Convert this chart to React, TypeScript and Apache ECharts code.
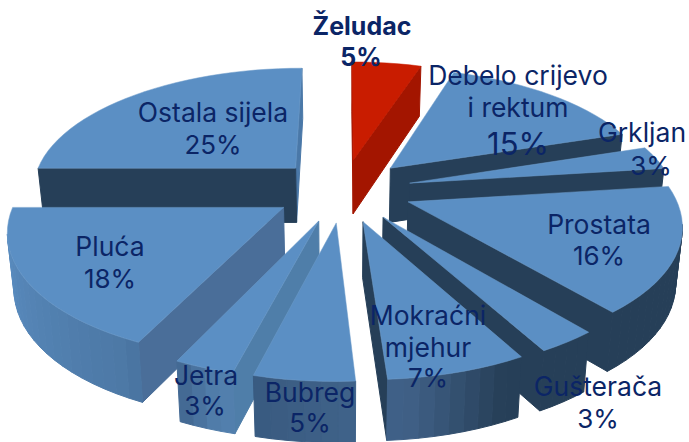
import React, { useEffect, useRef } from "react";
import * as echarts from "echarts";

const categories = ["Želudac", "Debelo crijevo i rektum", "Grkljan", "Prostata", "Gušterača", "Mokraćni mjehur", "Bubreg", "Jetra", "Pluća", "Ostala sijela"];
const values = [5, 15, 3, 16, 3, 7, 5, 3, 18, 25];
// painter's order, back to front
const drawOrder = [0, 9, 1, 2, 3, 8, 4, 7, 5, 6];

const nameLines = [["Želudac"], ["Debelo crijevo", "i rektum"], ["Grkljan"], ["Prostata"], ["Gušterača"], ["Mokraćni", "mjehur"], ["Bubreg"], ["Jetra"], ["Pluća"], ["Ostala sijela"]];
const labelCenters = [[362, 26], [518, 75], [642, 132], [599, 224], [598, 386], [428, 315], [310, 392], [206, 375], [110, 246], [213, 112]];
const pctCenters = [[361, 57], [518, 143], [651, 165], [599, 255], [598, 418], [428, 377], [310, 422], [205, 405], [110, 278], [213, 144]];
const startWallShade = ["#A31500", "#263F58", "#263F58", "#263F58", "#263F58", "#263F58", "#3F6289", "#4F7EA9", "#4A6E99", "#263F58"];
const endWallShade = ["#A31500", "#263F58", "#263F58", "#263F58", "#263F58", "#263F58", "#3F6289", "#4F7EA9", "#4A6E99", "#4A78A8"];
const arcStops: [number, string][] = [[0, "#263F58"], [155, "#263F58"], [172, "#3F5F85"], [178, "#3F6289"], [194, "#395A80"], [196, "#5584B3"], [205, "#426690"], [207, "#4C78A5"], [270, "#5D90C5"], [360, "#263F58"]];

const cx = 343, cy = 190, A = 265, B = 122, K = 0.157, EX = 0.26, EY = 0.26;
const rad = (d: number) => (d * Math.PI) / 180;
const project = (u: number, v: number) => {
  const w = 1 + K * v;
  return [cx + (A * u) / w, cy - (B * v) / w];
};
const drop = (p: number[], v: number) => [cx + (p[0] - cx) * 0.98, p[1] + 55 / (1 + 0.08 * v)];
const hex = (c: string) => [1, 3, 5].map((i) => parseInt(c.slice(i, i + 2), 16));
const shadeAt = (a: number) => {
  for (let i = 1; i < arcStops.length; i++) {
    if (a <= arcStops[i][0]) {
      const [a0, c0] = arcStops[i - 1];
      const [a1, c1] = arcStops[i];
      const t = (a - a0) / (a1 - a0);
      const p = hex(c0), q = hex(c1);
      return `rgb(${p.map((x, j) => Math.round(x + (q[j] - x) * t)).join(",")})`;
    }
  }
  return arcStops[0][1];
};

const total = values.reduce((s, x) => s + x, 0);
const starts: number[] = [];
values.reduce((s, x, i) => {
  starts[i] = s;
  return s + x;
}, 0);

function renderSlice(params: any, api: any) {
  const idx = api.value(0);
  const val = api.value(1);
  const a0 = (starts[idx] / total) * 360;
  const a1 = a0 + (val / total) * 360;
  const mid = rad((a0 + a1) / 2);
  const ou = EX * Math.sin(mid), ov = EY * Math.cos(mid);
  const pt = (a: number, r: number) => {
    const u = ou + r * Math.sin(rad(a)), v = ov + r * Math.cos(rad(a));
    return { p: project(u, v), v };
  };
  const tip = pt(0, 0);
  const children: any[] = [];
  const quad = (s: any, e: any, fill: string) => {
    children.push({
      type: "polygon",
      shape: { points: [s.p, e.p, drop(e.p, e.v), drop(s.p, s.v)] },
      style: { fill, stroke: fill, lineWidth: 1 },
    });
  };
  const steps = Math.max(2, Math.ceil((a1 - a0) / 3));
  const arc: any[] = [];
  for (let i = 0; i <= steps; i++) arc.push(pt(a0 + ((a1 - a0) * i) / steps, 1));
  if (arc[steps].p[0] > tip.p[0]) quad(arc[steps], tip, endWallShade[idx]);
  if (arc[0].p[0] < tip.p[0]) quad(tip, arc[0], startWallShade[idx]);
  for (let i = 0; i < steps; i++) {
    if (arc[i + 1].p[0] < arc[i].p[0]) {
      const a = a0 + ((a1 - a0) * (i + 0.5)) / steps;
      quad(arc[i], arc[i + 1], idx === 0 ? "#A31500" : shadeAt(a));
    }
  }
  children.push({
    type: "polygon",
    shape: { points: [tip.p, ...arc.map((q) => q.p)] },
    style: { fill: idx === 0 ? "#C91C00" : "#5B8FC4", stroke: idx === 0 ? "#C91C00" : "#6E9CCB", lineWidth: 0.5 },
  });
  return { type: "group", children };
}

const textColor = "#0B2566";
const labelFont = (size: number, weight = 400) => `${weight} ${size}px Inter, "Noto Sans", sans-serif`;

function labelGraphics() {
  const out: any[] = [];
  categories.forEach((_, i) => {
    const weight = i === 0 ? 700 : 400;
    nameLines[i].forEach((line, j) => {
      out.push({
        type: "text",
        z: 100,
        style: {
          x: labelCenters[i][0],
          y: labelCenters[i][1] + j * 32,
          text: line,
          fill: textColor,
          font: labelFont(i === 0 ? 25 : 26.5, weight),
          align: "center",
          verticalAlign: "middle",
        },
      });
    });
    out.push({
      type: "text",
      z: 100,
      style: {
        x: pctCenters[i][0],
        y: pctCenters[i][1],
        text: `${values[i]}%`,
        fill: textColor,
        font: labelFont(i === 1 ? 31 : i === 0 ? 25 : 26, weight),
        align: "center",
        verticalAlign: "middle",
      },
    });
  });
  return out;
}

export default function App() {
  const ref = useRef<HTMLDivElement>(null);
  useEffect(() => {
    const chart = echarts.init(ref.current!, null, { renderer: "svg" });
    chart.setOption({
      animation: false,
      backgroundColor: "#ffffff",
      series: [
        {
          type: "custom",
          coordinateSystem: "none",
          renderItem: renderSlice,
          data: drawOrder.map((i) => [i, values[i]]),
          silent: true,
          clip: false,
        },
      ],
      graphic: labelGraphics(),
    });
    return () => chart.dispose();
  }, []);
  return <div ref={ref} style={{ position: "absolute", left: 0, top: 0, width: 689, height: 442, overflow: "hidden" }} />;
}
